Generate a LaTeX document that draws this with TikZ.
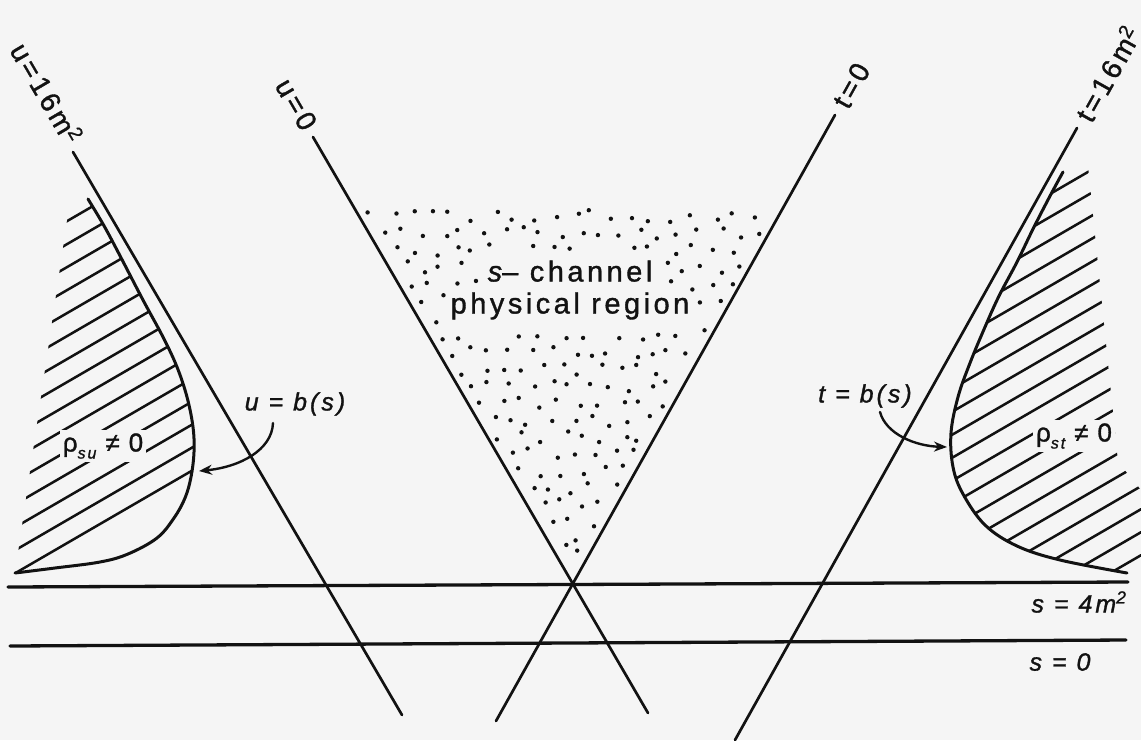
\documentclass[tikz,border=0pt]{standalone}
\usepackage{fontspec}
\setmainfont{Liberation Sans}
\newfontfamily\hand[LetterSpace=12,FakeBold=1.2]{Liberation Sans}
\usetikzlibrary{arrows.meta}
\definecolor{paper}{RGB}{245,245,245}
\definecolor{ink}{RGB}{18,18,18}
\begin{document}
\begin{tikzpicture}[x=1pt,y=-1pt,line cap=round,line join=round,
  axisline/.style={draw=ink,line width=2.7pt},
  sline/.style={draw=ink,line width=3.3pt},
  bound/.style={draw=ink,line width=3pt},
  hatchline/.style={draw=ink,line width=2.5pt},
  curvearrow/.style={draw=ink,line width=2.4pt,-{Stealth[length=13pt,width=10pt]}},
  lbl/.style={text=ink,inner sep=0pt,font=\hand\fontsize{28}{32}\selectfont},
  ilbl/.style={text=ink,inner sep=0pt,font=\hand\itshape\fontsize{25}{30}\selectfont},
  rholbl/.style={text=ink,fill=paper,inner sep=3pt,font=\hand\fontsize{26}{30}\selectfont},
  dotmark/.style={fill=ink}
]
\fill[paper] (0,0) rectangle (1141,740);
\useasboundingbox (0,0) rectangle (1141,740);

% ---------- hatched region rho_su ----------
\begin{scope}
\clip plot[smooth,tension=0.6] coordinates {(88,199) (103,224) (117,250) (143,300) (163,337) (177,367) (187,397) (193,427) (194,452) (191,477) (185,498) (174,518) (157,538) (128,554) (100,562) (55,568) (15,573)} -- (68,214) -- cycle;
\foreach \k in {0,...,15}{
  \draw[hatchline] (0,{582-23*\k}) -- (220,{582-23*\k-127.6});
}
\end{scope}
\draw[bound] plot[smooth,tension=0.6] coordinates {(88,199) (103,224) (117,250) (143,300) (163,337) (177,367) (187,397) (193,427) (194,452) (191,477) (185,498) (174,518) (157,538) (128,554) (100,562) (55,568) (15,573)};

% ---------- hatched region rho_st ----------
\begin{scope}
\clip plot[smooth,tension=0.6] coordinates {(1063,172) (1050,196) (1033,229) (1017,262) (999,296) (985,327) (970,363) (958,397) (951,433) (953,467) (963,494) (985,525) (1017,546) (1060,560) (1127,573)} -- (1141,571) -- (1141,490) -- (1118,462) -- (1088,166) -- cycle;
\foreach \k in {0,...,20}{
  \draw[hatchline] (940,{803+23*\k-545.2}) -- (1141,{803+23*\k-661.8});
}
\end{scope}
\draw[bound] plot[smooth,tension=0.6] coordinates {(1063,172) (1050,196) (1033,229) (1017,262) (999,296) (985,327) (970,363) (958,397) (951,433) (953,467) (963,494) (985,525) (1017,546) (1060,560) (1127,573)};

% ---------- physical region dots (jittered grid) ----------
\pgfmathsetseed{31}
\foreach \r in {0,...,21}{
  \foreach \c in {0,...,22}{
    \pgfmathsetmacro{\yy}{216+17*\r+6*rand}
    \pgfmathsetmacro{\xx}{352+20*\c+10*mod(\r,2)+7*rand}
    \pgfmathsetmacro{\xl}{313+(\yy-137)*0.581+7}
    \pgfmathsetmacro{\xr}{835-(\yy-115)*0.559-7}
    \pgfmathtruncatemacro{\inT}{(\xx>\xl)*(\xx<\xr)*(\yy>210)*(\yy<574)}
    \pgfmathtruncatemacro{\inA}{(\xx>482)*(\xx<662)*(\yy>250)*(\yy<290)}
    \pgfmathtruncatemacro{\inB}{(\xx>446)*(\xx<692)*(\yy>289)*(\yy<333)}
    \pgfmathtruncatemacro{\keep}{\inT*(1-\inA)*(1-\inB)}
    \ifnum\keep=1 \fill[dotmark] (\xx,\yy) circle (2.2); \fi
  }
}

% ---------- straight lines ----------
\coordinate (u16top) at (73,152);
\coordinate (u16bot) at (402,715);
\coordinate (u0top) at (313,137);
\coordinate (u0bot) at (648,713);
\coordinate (t0top) at (835,115);
\coordinate (t0bot) at (496,721);
\coordinate (t16top) at (1077,128);
\coordinate (t16bot) at (735,740);
\coordinate (s4l) at (8,587);
\coordinate (s4r) at (1128,582);
\coordinate (s0l) at (10,646);
\coordinate (s0r) at (1126,640);

\draw[axisline] (u16top) -- (u16bot);
\draw[axisline] (u0top) -- (u0bot);
\draw[axisline] (t0top) -- (t0bot);
\draw[axisline] (t16top) -- (t16bot);
\draw[sline] (s4l) -- (s4r);
\draw[sline] (s0l) -- (s0r);

% ---------- line labels ----------
\node[lbl,rotate=-59.7,anchor=east] (lu16) at (75,141) {u=16m\textsuperscript{2}};
\node[lbl,rotate=-59.8,anchor=east] (lu0) at (310,128) {u=0};
\node[lbl,rotate=60.8,anchor=west] (lt0) at (840,106) {t=0};
\node[lbl,rotate=60.8,anchor=west] (lt16) at (1082,119) {t=16m\textsuperscript{2}};
\node[ilbl] (ls4) at (1079,602) {s = 4m\textsuperscript{2}};
\node[ilbl] (ls0) at (1060,662) {s = 0};

% ---------- region labels ----------
\node[rholbl] (rsu) at (103,446) {ρ\raisebox{-7pt}{\fontsize{16}{16}\selectfont\itshape su}\hspace{9pt}≠\hspace{9pt}0};
\node[rholbl] (rst) at (1074,436) {ρ\raisebox{-7pt}{\fontsize{16}{16}\selectfont\itshape st}\hspace{9pt}≠\hspace{9pt}0};

\node[text=ink,inner sep=0pt,font=\hand\fontsize{29}{34}\selectfont,align=center] (sch) at (570,290) {{\itshape s}– channel\\[-2pt] physical region};

\node[ilbl] (ub) at (295,404) {u = b(s)};
\node[ilbl] (tb) at (865,396) {t = b(s)};

\coordinate (ubS) at (273,423);
\coordinate (ubE) at (199,471);
\coordinate (tbS) at (880,412);
\coordinate (tbE) at (947,447);
\draw[curvearrow] (ubS) .. controls (272,450) and (240,467) .. (ubE);
\draw[curvearrow] (tbS) .. controls (886,434) and (915,446) .. (tbE);
\end{tikzpicture}
\end{document}
